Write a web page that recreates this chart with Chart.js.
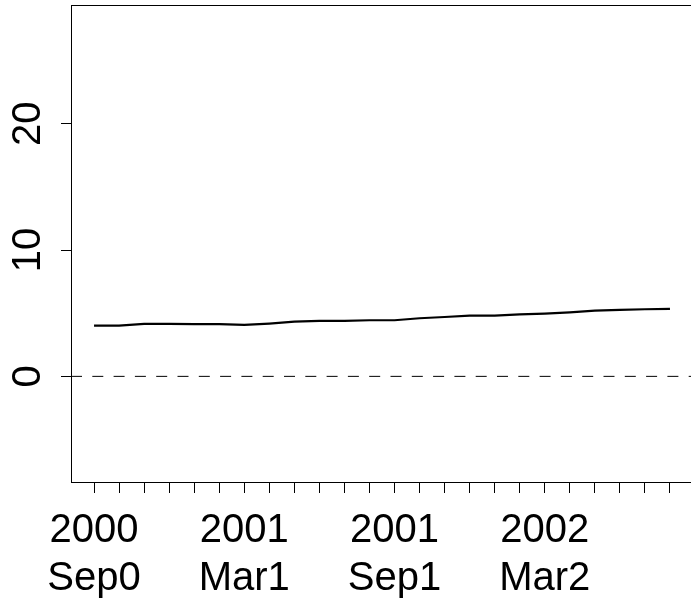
<!DOCTYPE html>
<html>
<head>
<meta charset="utf-8">
<script src="https://cdn.jsdelivr.net/npm/chart.js@4/dist/chart.umd.min.js"></script>
<style>
  html, body { margin: 0; padding: 0; overflow: hidden; background: #fff; }
  #wrap { position: relative; width: 700px; height: 608px; }
</style>
</head>
<body>
<div id="wrap"><canvas id="c" width="700" height="608"></canvas></div>
<script>
// Monthly series, Sep 2000 .. Aug 2002
const years = ['2000','2000','2000','2000',
               '2001','2001','2001','2001','2001','2001','2001','2001','2001','2001','2001','2001',
               '2002','2002','2002','2002','2002','2002','2002','2002'];
const months = ['Sep0','Oct0','Nov0','Dec0',
                'Jan1','Feb1','Mar1','Apr1','May1','Jun1','Jul1','Aug1','Sep1','Oct1','Nov1','Dec1',
                'Jan2','Feb2','Mar2','Apr2','May2','Jun2','Jul2','Aug2'];
const rate = [4.02, 4.02, 4.16, 4.16, 4.14, 4.14, 4.07, 4.18, 4.33, 4.39, 4.39, 4.44,
              4.44, 4.60, 4.70, 4.81, 4.81, 4.91, 4.97, 5.07, 5.20, 5.26, 5.31, 5.34];
const refLevel = 0;
const yTickValues = [0, 10, 20];
const labeledMonths = [0, 6, 12, 18];

const FONT = 'Liberation Sans, Arial, Helvetica, sans-serif';

// Frame around the plotting region and rotated y-axis labels
const framePlugin = {
  id: 'frame',
  afterDraw(chart) {
    const { ctx, chartArea: a } = chart;
    ctx.save();
    ctx.strokeStyle = '#000';
    ctx.lineWidth = 1;
    ctx.strokeRect(Math.round(a.left) + 0.5, Math.round(a.top) + 0.5,
                   Math.round(a.right - a.left), Math.round(a.bottom - a.top));
    const ys = chart.scales.y;
    ctx.fillStyle = '#000';
    ctx.font = '40px ' + FONT;
    ctx.textAlign = 'center';
    ctx.textBaseline = 'alphabetic';
    ys.ticks.forEach(t => {
      const py = ys.getPixelForValue(t.value);
      ctx.save();
      ctx.translate(40, py);
      ctx.rotate(-Math.PI / 2);
      ctx.fillText(String(t.value), 0, 0);
      ctx.restore();
    });
    ctx.restore();
  }
};

const xs = rate.map((_, i) => i);
const xMin = -0.04 * (xs.length - 1);
const xMax = (xs.length - 1) * 1.04;

new Chart(document.getElementById('c'), {
  type: 'line',
  data: {
    datasets: [
      {
        data: rate.map((v, i) => ({ x: i, y: v })),
        borderColor: '#000',
        borderWidth: 2.2,
        pointRadius: 0,
        tension: 0,
        fill: false
      },
      {
        data: [{ x: xMin, y: refLevel }, { x: xMax, y: refLevel }],
        borderColor: '#000',
        borderWidth: 1,
        borderDash: [11, 10.3],
        pointRadius: 0,
        fill: false
      }
    ]
  },
  options: {
    responsive: false,
    animation: false,
    devicePixelRatio: 1,
    layout: { padding: { top: 5, right: 7, left: 0, bottom: 0 } },
    plugins: { legend: { display: false }, tooltip: { enabled: false } },
    scales: {
      x: {
        type: 'linear',
        min: xMin,
        max: xMax,
        afterBuildTicks: s => { s.ticks = xs.map(v => ({ value: v })); },
        afterFit: s => { s.height = 126; },
        grid: { drawOnChartArea: false, drawTicks: true, tickLength: 11,
                color: '#000', tickColor: '#000', lineWidth: 1, tickWidth: 1 },
        border: { display: false },
        ticks: {
          autoSkip: false, maxRotation: 0, minRotation: 0, padding: 14,
          color: '#000',
          font: { family: FONT, size: 40, lineHeight: 1.2 },
          callback: (v, i) => labeledMonths.includes(i) ? [years[i], months[i]] : ''
        }
      },
      y: {
        type: 'linear',
        min: -8.36,
        max: 29.39,
        afterBuildTicks: s => { s.ticks = yTickValues.map(v => ({ value: v })); },
        afterFit: s => { s.width = 71; },
        grid: { drawOnChartArea: false, drawTicks: true, tickLength: 10,
                color: '#000', tickColor: '#000', lineWidth: 1, tickWidth: 1 },
        border: { display: false },
        ticks: { display: false }
      }
    }
  },
  plugins: [framePlugin]
});
</script>
</body>
</html>
